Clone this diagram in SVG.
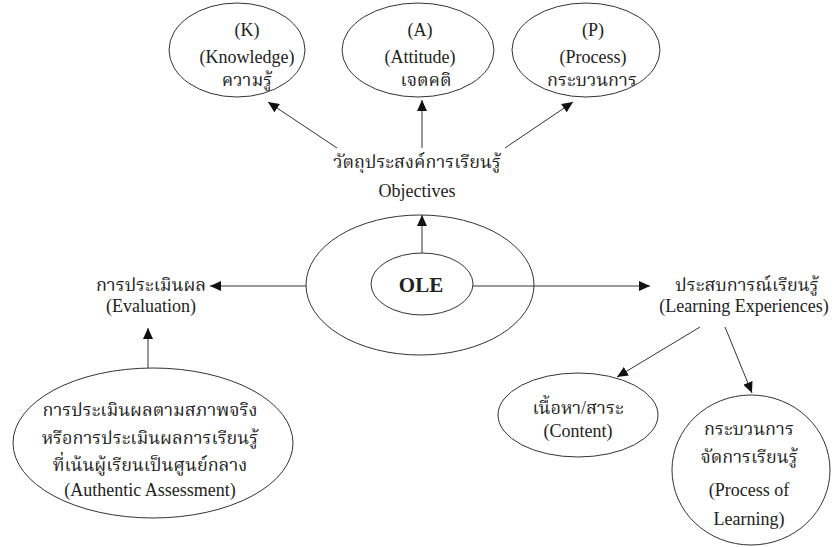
<svg xmlns="http://www.w3.org/2000/svg" width="834" height="547" viewBox="0 0 834 547">
<style>
.n{fill:#fff;stroke:#333;stroke-width:1}
.t{font-family:"Liberation Serif","Noto Serif Thai","Noto Sans Thai","Tlwg Typo","Garuda",serif;font-size:18px;fill:#222;text-anchor:middle}
.th{font-size:18px}
.b{font-weight:bold;font-size:21px}
.c line{stroke:#333;stroke-width:1;fill:none}
</style>
<defs>
<marker id="ah" markerUnits="userSpaceOnUse" markerWidth="11" markerHeight="10" refX="11" refY="5" orient="auto">
<path d="M0,0 L11,5 L0,10 z" fill="#111"/>
</marker>
</defs>
<rect width="834" height="547" fill="#fff"/>
<g id="k">
<ellipse class="n" cx="237" cy="50" rx="68" ry="47"/>
<text class="t" x="247" y="36">(K)</text>
<text class="t" x="247" y="63">(Knowledge)</text>
<text class="t th" x="247" y="86">ความรู้</text>
</g>
<g id="a">
<ellipse class="n" cx="418" cy="50" rx="76" ry="47"/>
<text class="t" x="420" y="36">(A)</text>
<text class="t" x="420" y="63">(Attitude)</text>
<text class="t th" x="426" y="86">เจตคติ</text>
</g>
<g id="p">
<ellipse class="n" cx="586" cy="50" rx="74" ry="47"/>
<text class="t" x="593" y="36">(P)</text>
<text class="t" x="593" y="63">(Process)</text>
<text class="t th" x="592" y="86">กระบวนการ</text>
</g>
<g id="objectives">
<text class="t th" x="417" y="168">วัตถุประสงค์การเรียนรู้</text>
<text class="t" x="417" y="197">Objectives</text>
</g>
<g id="outer">
<ellipse class="n" cx="420" cy="285" rx="114" ry="70"/>
</g>
<g id="ole">
<ellipse class="n" cx="422" cy="284" rx="51" ry="31"/>
<text class="t b" x="421" y="292">OLE</text>
</g>
<g id="evaluation">
<text class="t th" x="151" y="291">การประเมินผล</text>
<text class="t" x="151" y="312">(Evaluation)</text>
</g>
<g id="experiences">
<text class="t th" x="747" y="291">ประสบการณ์เรียนรู้</text>
<text class="t" x="744" y="312">(Learning Experiences)</text>
</g>
<g id="authentic">
<ellipse class="n" cx="153" cy="443" rx="140" ry="75"/>
<text class="t th" x="150" y="416">การประเมินผลตามสภาพจริง</text>
<text class="t th" x="150" y="444">หรือการประเมินผลการเรียนรู้</text>
<text class="t th" x="150" y="471">ที่เน้นผู้เรียนเป็นศูนย์กลาง</text>
<text class="t" x="150" y="496">(Authentic Assessment)</text>
</g>
<g id="content">
<ellipse class="n" cx="578" cy="415" rx="80" ry="42"/>
<text class="t th" x="578" y="414">เนื้อหา/สาระ</text>
<text class="t" x="578" y="437">(Content)</text>
</g>
<g id="process">
<ellipse class="n" cx="751" cy="470" rx="79" ry="75"/>
<text class="t th" x="749" y="435">กระบวนการ</text>
<text class="t th" x="749" y="463">จัดการเรียนรู้</text>
<text class="t" x="749" y="496">(Process of</text>
<text class="t" x="749" y="525">Learning)</text>
</g>
<g class="c" id="connectors">
<line x1="337" y1="148" x2="268" y2="102" marker-end="url(#ah)"/>
<line x1="422" y1="148" x2="422" y2="100" marker-end="url(#ah)"/>
<line x1="505" y1="148" x2="573" y2="102" marker-end="url(#ah)"/>
<line x1="422" y1="253" x2="422" y2="215" marker-end="url(#ah)"/>
<line x1="306" y1="286" x2="210" y2="286" marker-end="url(#ah)"/>
<line x1="473" y1="286" x2="650" y2="286" marker-end="url(#ah)"/>
<line x1="148" y1="368" x2="148" y2="328" marker-end="url(#ah)"/>
<line x1="700" y1="327" x2="617" y2="377" marker-end="url(#ah)"/>
<line x1="725" y1="327" x2="752" y2="393" marker-end="url(#ah)"/>
</g>
</svg>
